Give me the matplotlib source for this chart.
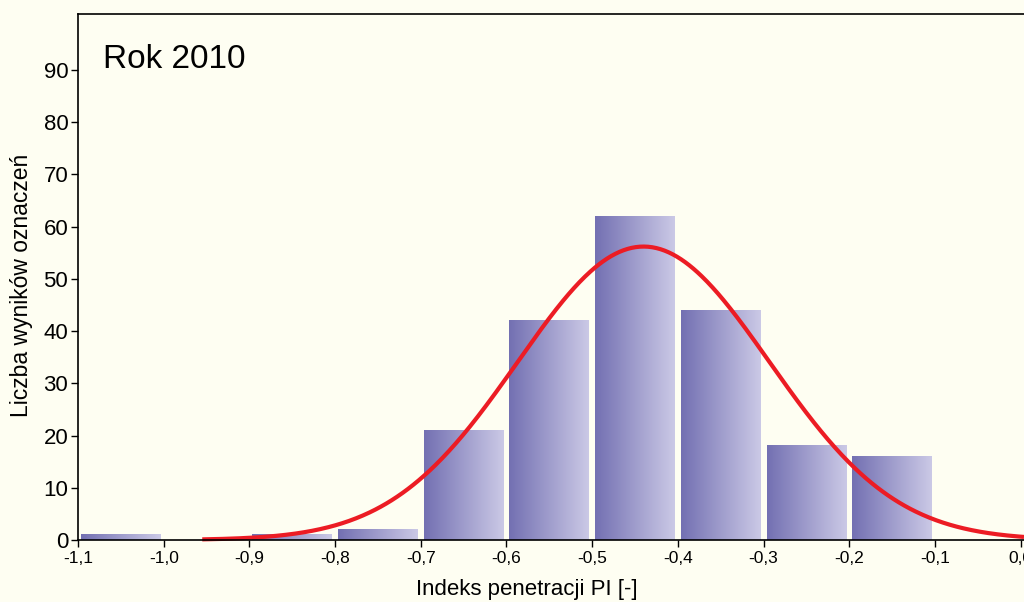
import numpy as np
import matplotlib
matplotlib.use("Agg")
import matplotlib.pyplot as plt
from matplotlib.colors import LinearSegmentedColormap

plt.rcParams['font.family'] = ['Liberation Sans', 'DejaVu Sans']

# Histogram of penetration index values, year 2010
bin_edges = [-1.1, -1.0, -0.9, -0.8, -0.7, -0.6, -0.5, -0.4, -0.3, -0.2, -0.1]
counts = [1, 0, 1, 2, 21, 42, 62, 44, 18, 16]
x_ticks = [-1.1, -1.0, -0.9, -0.8, -0.7, -0.6, -0.5, -0.4, -0.3, -0.2, -0.1, 0.0]
x_tick_labels = ['-1,1', '-1,0', '-0,9', '-0,8', '-0,7', '-0,6', '-0,5', '-0,4',
                 '-0,3', '-0,2', '-0,1', '0,0']
y_ticks = [0, 10, 20, 30, 40, 50, 60, 70, 80, 90]

# Fitted normal distribution parameters
fit_mean = -0.44
fit_std = 0.147
fit_x_start = -0.955

bg = '#fefef2'
fig = plt.figure(figsize=(10.24, 6.02), dpi=100, facecolor=bg)
ax = fig.add_axes([78 / 1024, 62 / 602, (1024 - 78) / 1024, (540 - 14) / 602])
ax.set_facecolor(bg)

xmax = 0.004
ymax = 100.7

cmap = LinearSegmentedColormap.from_list('bar', ['#7370b2', '#cbc9e6'])
grad = np.linspace(0, 1, 256).reshape(1, -1)
gap = 0.0035
for left, right, c in zip(bin_edges[:-1], bin_edges[1:], counts):
    if c <= 0:
        continue
    ax.imshow(grad, cmap=cmap, aspect='auto',
              extent=(left + gap, right - gap, 0, c), zorder=2,
              interpolation='bilinear')
ax.set_xlim(-1.1, xmax)
ax.set_ylim(0, ymax)

# Normal curve scaled to histogram counts
n_total = sum(counts)
width = bin_edges[1] - bin_edges[0]
xs = np.linspace(fit_x_start, xmax, 600)
ys = n_total * width / (fit_std * np.sqrt(2 * np.pi)) * np.exp(-0.5 * ((xs - fit_mean) / fit_std) ** 2)
ax.plot(xs, ys, color='#ec1c24', lw=3.0, zorder=4, solid_capstyle='butt', clip_on=False)

ax.set_xticks(x_ticks)
ax.set_xticklabels(x_tick_labels, fontsize=12.5)
ax.set_yticks(y_ticks)
ax.set_yticklabels([str(v) for v in y_ticks], fontsize=16)
ax.tick_params(axis='x', direction='out', length=5, width=1, pad=3)
ax.tick_params(axis='y', direction='out', length=5, width=1, pad=2)

for side in ['left', 'bottom', 'top']:
    ax.spines[side].set_color('black')
    ax.spines[side].set_linewidth(1.2)
ax.spines['right'].set_visible(False)
ax.spines['bottom'].set_zorder(5)

# Axis titles
fig.text(527 / 1024, 1 - 590 / 602, 'Indeks penetracji PI [-]', fontsize=16,
         ha='center', va='center')
fig.text(22 / 1024, 1 - 285 / 602, 'Liczba wyników oznaczeń', fontsize=16.5,
         ha='center', va='center', rotation=90)

fig.text(103 / 1024, 1 - 68 / 602, 'Rok 2010', fontsize=24, va='baseline', ha='left')

fig.savefig('out.png', dpi=100, facecolor=bg)
